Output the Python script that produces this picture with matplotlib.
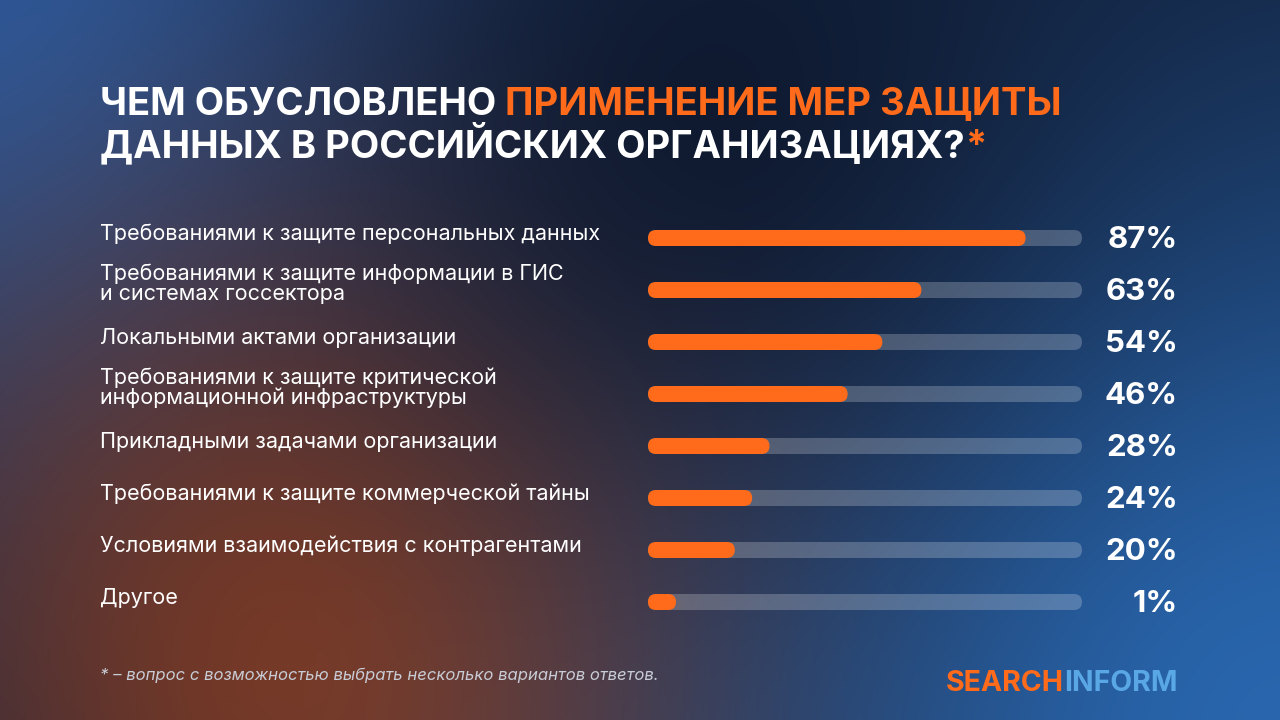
import numpy as np
import matplotlib.pyplot as plt
from matplotlib.patches import FancyBboxPatch

labels = [
    "Требованиями к защите персональных данных",
    "Требованиями к защите информации в ГИС\nи системах госсектора",
    "Локальными актами организации",
    "Требованиями к защите критической\nинформационной инфраструктуры",
    "Прикладными задачами организации",
    "Требованиями к защите коммерческой тайны",
    "Условиями взаимодействия с контрагентами",
    "Другое",
]
values = [87, 63, 54, 46, 28, 24, 20, 1]

ORANGE = "#ff6b1a"
plt.rcParams['font.family'] = ['Inter', 'DejaVu Sans']

fig = plt.figure(figsize=(12.8, 7.2), dpi=100)
ax = fig.add_axes([0, 0, 1, 1])
ax.set_xlim(0, 1280)
ax.set_ylim(720, 0)
ax.axis('off')

# background gradient
H, W = 360, 640
yy, xx = np.mgrid[0:H, 0:W]
xx = xx / W * 1280
yy = yy / H * 720
img = np.zeros((H, W, 3))
img[:] = np.array([0.07, 0.12, 0.22])
def blob(cx, cy, r, col, strength=1.0):
    w = np.exp(-(((xx - cx) ** 2 + (yy - cy) ** 2) / (2 * r ** 2))) * strength
    return w[..., None], np.array(col)
for cx, cy, r, col, s in [
    (0, 0, 380, (0.16, 0.35, 0.62), 1.0),
    (350, 650, 320, (0.50, 0.22, 0.12), 1.0),
    (1280, 720, 420, (0.16, 0.40, 0.68), 1.0),
    (700, 120, 260, (0.04, 0.08, 0.16), 0.8),
]:
    w, c = blob(cx, cy, r, col, s)
    img = img * (1 - w) + c * w
ax.imshow(img, extent=(0, 1280, 720, 0), aspect='auto', zorder=0)

# title with coloured words
r = fig.canvas.get_renderer()
def colored_line(parts, x, y, size):
    for txt, col in parts:
        t = ax.text(x, y, txt, color=col, fontsize=size, fontweight='bold',
                    va='baseline', ha='left', zorder=5)
        bb = t.get_window_extent(renderer=r)
        x += bb.width
colored_line([("ЧЕМ ОБУСЛОВЛЕНО ", "white"), ("ПРИМЕНЕНИЕ МЕР ЗАЩИТЫ", ORANGE)], 100, 115, 27.5)
colored_line([("ДАННЫХ В РОССИЙСКИХ ОРГАНИЗАЦИЯХ?", "white"), ("*", ORANGE)], 100, 157, 27.5)

# bars
x0, x1 = 648, 1082
span = x1 - x0
y_first, step = 238, 52
bh = 16
for i, (lab, v) in enumerate(zip(labels, values)):
    yc = y_first + i * step
    ax.add_patch(FancyBboxPatch((x0, yc - bh / 2), span, bh,
                                boxstyle=f"round,pad=0,rounding_size={bh/2}",
                                fc=(1, 1, 1, 0.22), ec='none', zorder=2))
    w = max(span * v / 100, bh + 12)
    ax.add_patch(FancyBboxPatch((x0, yc - bh / 2), w, bh,
                                boxstyle=f"round,pad=0,rounding_size={bh/2}",
                                fc=ORANGE, ec='none', zorder=3))
    ty = yc - 4 if "\n" not in lab else yc - 6
    ax.text(100, ty, lab, color='white', fontsize=15.5, va='center', ha='left',
            linespacing=1.0, zorder=5)
    ax.text(1178, yc + 2, f"{v}%", color='white', fontsize=22.5, fontweight='bold',
            va='center', ha='right', zorder=5)

ax.text(100, 675, "* – вопрос с возможностью выбрать несколько вариантов ответов.",
        color='#c8ccd6', fontsize=12, style='italic', va='center', ha='left', zorder=5)

# logo
colored_line([("SEARCH", ORANGE), ("INFORM", "#5aa7e6")], 946, 691, 20.5)

fig.savefig("out.png", dpi=100)
